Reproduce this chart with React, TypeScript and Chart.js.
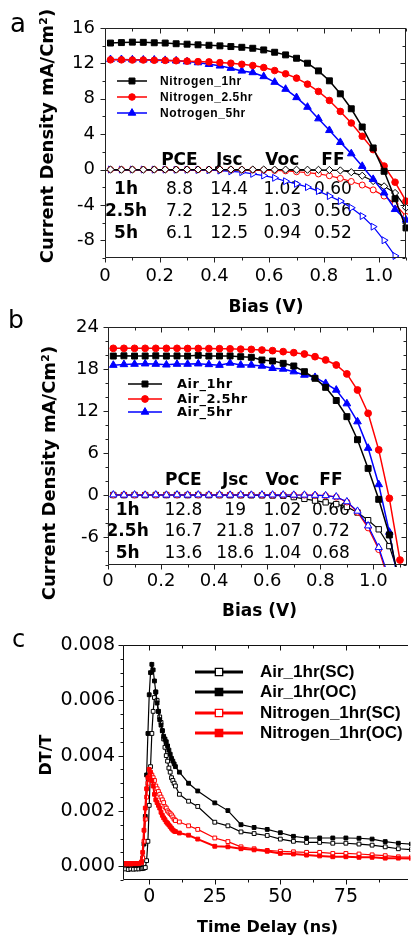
import React, { useEffect, useRef } from 'react';
import { Chart, registerables } from 'chart.js';

Chart.register(...registerables);

const SANS = '"DejaVu Sans", "Noto Sans", sans-serif';
const ARIAL = '"Liberation Sans", Arial, sans-serif';

// ---------------- DATA ----------------
// shared bias sweep (V) for panels a and b
const biasV = [0.02, 0.06, 0.10, 0.14, 0.18, 0.22, 0.26, 0.30, 0.34, 0.38, 0.42, 0.46, 0.50, 0.54, 0.58, 0.62, 0.66, 0.70, 0.74, 0.78, 0.82, 0.86, 0.90, 0.94, 0.98, 1.02, 1.06, 1.10];

// panel a (illuminated)
const nitrogen1hr = [14.30, 14.35, 14.40, 14.38, 14.33, 14.30, 14.22, 14.17, 14.10, 14.05, 13.98, 13.90, 13.82, 13.71, 13.52, 13.26, 12.96, 12.58, 12.02, 11.15, 10.03, 8.56, 6.87, 4.81, 2.44, -0.20, -3.30, -6.60];
const nitrogen25hr = [12.40, 12.40, 12.38, 12.38, 12.35, 12.33, 12.30, 12.25, 12.20, 12.17, 12.09, 12.02, 11.90, 11.76, 11.53, 11.19, 10.82, 10.33, 9.65, 8.83, 7.81, 6.57, 5.26, 3.76, 2.25, 0.40, -1.43, -3.57];
const nitrogen5hr = [12.45, 12.45, 12.42, 12.40, 12.40, 12.35, 12.30, 12.20, 12.09, 11.90, 11.72, 11.46, 11.15, 10.97, 10.52, 9.88, 9.09, 8.15, 7.06, 5.75, 4.43, 3.08, 1.80, 0.38, -1.10, -2.63, -4.50, -5.70];
// panel a (dark)
const nitrogen1hrDark = [0.0, -0.02, 0.0, -0.01, 0.0, 0.0, -0.01, 0.0, 0.0, -0.01, 0.0, 0.0, -0.01, 0.0, 0.0, -0.01, -0.01, -0.02, -0.02, -0.03, -0.05, -0.10, -0.30, -0.70, -1.30, -1.90, -2.65, -4.30];
const nitrogen25hrDark = [0.0, 0.0, 0.0, 0.0, 0.0, 0.0, 0.0, 0.0, -0.01, -0.01, -0.01, -0.02, -0.03, -0.04, -0.06, -0.10, -0.15, -0.25, -0.35, -0.50, -0.70, -1.00, -1.35, -1.75, -2.30, -3.00, -3.90, -5.30];
const nitrogen5hrDark = [0.0, 0.0, 0.0, 0.0, -0.01, -0.01, -0.02, -0.03, -0.05, -0.08, -0.12, -0.20, -0.30, -0.49, -0.68, -0.94, -1.32, -1.62, -1.99, -2.44, -3.00, -3.57, -4.32, -5.26, -6.46, -8.00, -9.77];

// panel b (illuminated)
const air1hr = [19.85, 19.88, 19.85, 19.86, 19.88, 19.85, 19.87, 19.85, 19.95, 19.85, 19.86, 19.87, 19.76, 19.67, 19.29, 19.14, 18.81, 18.43, 17.62, 16.67, 15.38, 13.50, 11.19, 7.90, 3.80, -0.62, -5.71, -13.0];
const air25hr = [20.95, 20.95, 20.95, 20.95, 20.95, 20.95, 20.95, 20.93, 20.93, 20.92, 20.90, 20.88, 20.83, 20.80, 20.71, 20.62, 20.48, 20.33, 20.14, 19.76, 19.29, 18.57, 17.30, 15.00, 11.67, 6.45, -0.48, -9.29];
const air5hr = [18.55, 18.65, 18.70, 18.75, 18.70, 18.60, 18.70, 18.70, 18.75, 18.65, 18.55, 18.85, 18.57, 18.57, 18.43, 18.10, 18.00, 17.62, 17.14, 16.81, 15.95, 15.00, 13.05, 10.48, 6.70, 1.50, -5.30, -14.0];
// panel b (dark)
const air1hrDark = [0.0, -0.02, 0.0, -0.02, 0.0, -0.01, 0.0, -0.02, 0.0, -0.02, -0.02, -0.03, -0.03, -0.04, -0.05, -0.07, -0.10, -0.30, -0.55, -0.80, -1.05, -1.30, -1.70, -2.50, -3.60, -4.90, -7.30, -12.0];
const air25hrDark = [0.0, 0.02, 0.0, 0.02, 0.0, 0.02, 0.0, 0.02, 0.0, 0.02, 0.0, 0.02, 0.0, 0.02, 0.0, 0.0, 0.0, 0.0, -0.02, -0.05, -0.10, -0.30, -1.00, -2.45, -4.70, -7.80, -12.5];
const air5hrDark = [0.03, 0.0, 0.03, 0.0, 0.03, 0.0, 0.03, 0.0, 0.03, 0.0, 0.03, 0.0, 0.03, 0.0, 0.03, 0.02, 0.02, 0.0, 0.0, -0.03, -0.08, -0.25, -0.95, -2.30, -4.40, -7.50, -12.0];

// tables
const tableHeaders = ['PCE', 'Jsc', 'Voc', 'FF'];
const tableRowLabels = ['1h', '2.5h', '5h'];
const nitrogenPCE = ['8.8', '7.2', '6.1'];
const nitrogenJsc = ['14.4', '12.5', '12.5'];
const nitrogenVoc = ['1.02', '1.03', '0.94'];
const nitrogenFF = ['0.60', '0.56', '0.52'];
const airPCE = ['12.8', '16.7', '13.6'];
const airJsc = ['19', '21.8', '18.6'];
const airVoc = ['1.02', '1.07', '1.04'];
const airFF = ['0.66', '0.72', '0.68'];

// panel c (transient)
const timeNs = [-9, -8, -7, -6, -5, -4, -3, -2.5, -2, -1.5, -1, -0.5, 0, 0.5, 1, 1.5, 2, 2.5, 3, 3.5, 4, 4.5, 5, 5.5, 6, 6.5, 7, 7.5, 8, 8.5, 9, 9.5, 10, 11.5, 15, 18.5, 25, 30, 35, 40, 45, 50, 55, 60, 65, 70, 75, 80, 85, 90, 95, 100];
const air1hrSC = [-0.00010, -0.00012, -0.00010, -0.00011, -0.00010, -0.00010, -0.00009,
  -0.00008, -0.00007, -0.00005, 0.00020, 0.00090, 0.00220, 0.00360, 0.00480, 0.00560, 0.00610, 0.00630, 0.00600, 0.00560, 0.00540, 0.00520, 0.00490, 0.00460, 0.00430, 0.00400, 0.00380, 0.00355, 0.00340, 0.00320, 0.00310, 0.00300, 0.00290,
  0.00260, 0.00235, 0.00216,
  0.00159, 0.00146, 0.00124, 0.00118, 0.00111, 0.00098, 0.00090, 0.00086, 0.00086, 0.00083, 0.00083, 0.00080, 0.00076, 0.00070, 0.00063, 0.00060];
const air1hrOC = [0.00005, 0.00003, 0.00005, 0.00004, 0.00003, 0.00005, 0.00010,
  0.00030, 0.00080, 0.00180, 0.00330, 0.00480, 0.00620, 0.00700, 0.00730, 0.00710, 0.00670, 0.00630, 0.00590, 0.00560, 0.00530, 0.00510, 0.00490, 0.00470, 0.00460, 0.00450, 0.00435, 0.00420, 0.00405, 0.00390, 0.00380, 0.00370, 0.00360,
  0.00340, 0.00300, 0.00272,
  0.00229, 0.00201, 0.00150, 0.00140, 0.00133, 0.00121, 0.00108, 0.00102, 0.00102, 0.00102, 0.00102, 0.00101, 0.00098, 0.00089, 0.00083, 0.00080];
const nitrogen1hrSC = [0.00008, 0.00010, 0.00008, 0.00010, 0.00009, 0.00010, 0.00012,
  0.00030, 0.00090, 0.00170, 0.00250, 0.00300, 0.00320, 0.00330, 0.00330, 0.00320, 0.00310, 0.00290, 0.00280, 0.00270, 0.00260, 0.00250, 0.00240, 0.00230, 0.00215, 0.00210, 0.00200, 0.00195, 0.00190, 0.00185, 0.00178, 0.00170, 0.00165,
  0.00160, 0.00146, 0.00133,
  0.00102, 0.00089, 0.00070, 0.00063, 0.00057, 0.00054, 0.00052, 0.00050, 0.00050, 0.00046, 0.00046, 0.00044, 0.00041, 0.00038, 0.00034, 0.00033];
const nitrogen1hrOC = [0.00010, 0.00008, 0.00010, 0.00009, 0.00010, 0.00010, 0.00015,
  0.00050, 0.00130, 0.00210, 0.00280, 0.00320, 0.00350, 0.00340, 0.00310, 0.00290, 0.00260, 0.00240, 0.00230, 0.00220, 0.00210, 0.00195, 0.00184, 0.00175, 0.00168, 0.00160, 0.00155, 0.00149, 0.00143, 0.00137, 0.00131, 0.00127, 0.00125,
  0.00120, 0.00112, 0.00098,
  0.00072, 0.00070, 0.00063, 0.00059, 0.00054, 0.00046, 0.00044, 0.00040, 0.00037, 0.00034, 0.00034, 0.00032, 0.00032, 0.00029, 0.00029, 0.00028];

// tick labels
const aXTicks = [0, 0.2, 0.4, 0.6, 0.8, 1.0];
const aYTicks = [-8, -4, 0, 4, 8, 12, 16];
const bXTicks = [0, 0.2, 0.4, 0.6, 0.8, 1.0];
const bYTicks = [-6, 0, 6, 12, 18, 24];
const cXTicks = [0, 25, 50, 75];
const cYTicks = [0, 0.002, 0.004, 0.006, 0.008];

// ---------------- HELPERS ----------------
const toPts = (xs: number[], ys: number[]) => ys.map((y, i) => ({ x: xs[i], y }));

function drawMarker(ctx: CanvasRenderingContext2D, style: string, x: number, y: number, r: number, rot: number, fill: string, stroke: string, bw: number) {
  ctx.save();
  ctx.translate(x, y);
  ctx.rotate((rot * Math.PI) / 180);
  ctx.beginPath();
  if (style === 'circle') ctx.arc(0, 0, r, 0, Math.PI * 2);
  else if (style === 'rect') { const s = r * Math.SQRT1_2; ctx.rect(-s, -s, 2 * s, 2 * s); }
  else if (style === 'rectRot') { ctx.moveTo(0, -r); ctx.lineTo(r, 0); ctx.lineTo(0, r); ctx.lineTo(-r, 0); ctx.closePath(); }
  else if (style === 'triangle') { ctx.moveTo(0, -r); ctx.lineTo(r * 0.866, r * 0.5); ctx.lineTo(-r * 0.866, r * 0.5); ctx.closePath(); }
  ctx.fillStyle = fill;
  ctx.fill();
  ctx.lineWidth = bw;
  ctx.strokeStyle = stroke;
  ctx.stroke();
  ctx.restore();
}

function stepValues(min: number, max: number, step: number) {
  const out: number[] = [];
  const k0 = Math.ceil(min / step - 1e-9);
  const k1 = Math.floor(max / step + 1e-9);
  for (let k = k0; k <= k1; k++) out.push(k * step);
  return out;
}

const framePlugin = {
  id: 'frame',
  beforeDatasetsDraw(chart: any, _a: any, o: any) {
    if (!o || !o.zeroLine) return;
    const { ctx, chartArea: ca, scales } = chart;
    const py = Math.round(scales.y.getPixelForValue(0)) + 0.5;
    ctx.save();
    ctx.strokeStyle = o.color;
    ctx.lineWidth = 1;
    ctx.beginPath();
    ctx.moveTo(ca.left, py);
    ctx.lineTo(ca.right, py);
    ctx.stroke();
    ctx.restore();
  },
  afterDatasetsDraw(chart: any, _a: any, o: any) {
    const { ctx, chartArea: ca, scales } = chart;
    const xs = scales.x, ys = scales.y;
    const L = Math.round(ca.left) + 0.5, R = Math.round(ca.right) - 0.5;
    const T = Math.round(ca.top) + 0.5, B = Math.round(ca.bottom) - 0.5;
    ctx.save();
    ctx.strokeStyle = o.color;
    ctx.lineWidth = 1;
    ctx.beginPath();
    if (o.left) { ctx.moveTo(L, T); ctx.lineTo(L, B); }
    if (o.bottom) { ctx.moveTo(L, B); ctx.lineTo(R + 0.5, B); }
    if (o.top) { ctx.moveTo(L, T); ctx.lineTo(R + 0.5, T); }
    if (o.right) { ctx.moveTo(R, T); ctx.lineTo(R, B); }
    const isMajor = (v: number, majors: number[], step: number) => majors.some((m: number) => Math.abs(m - v) < step * 1e-3);
    for (const v of stepValues(xs.min, xs.max, o.xMinor)) {
      const px = Math.round(xs.getPixelForValue(v)) + 0.5;
      const len = isMajor(v, o.xMajor, o.xMinor) ? o.majorLen : o.minorLen;
      if (o.bottom) { ctx.moveTo(px, B); ctx.lineTo(px, B + len); }
      if (o.top) { ctx.moveTo(px, T); ctx.lineTo(px, T + len); }
    }
    for (const v of stepValues(ys.min, ys.max, o.yMinor)) {
      const py = Math.round(ys.getPixelForValue(v)) + 0.5;
      const len = isMajor(v, o.yMajor, o.yMinor) ? o.majorLen : o.minorLen;
      if (o.left) { ctx.moveTo(L - len, py); ctx.lineTo(L, py); }
      if (o.right) { ctx.moveTo(R - len, py); ctx.lineTo(R, py); }
    }
    ctx.stroke();
    ctx.restore();
  },
};

const tablePlugin = {
  id: 'pvTable',
  beforeDatasetsDraw(chart: any, _a: any, o: any) {
    if (!o || !o.cells) return;
    const { ctx, scales } = chart;
    const xs = scales.x, ys = scales.y;
    ctx.save();
    ctx.fillStyle = '#000';
    ctx.textAlign = 'center';
    ctx.textBaseline = 'middle';
    ctx.font = o.boldFont;
    o.headers.forEach((h: string, j: number) => {
      ctx.fillText(h, xs.getPixelForValue(o.colX[j]), ys.getPixelForValue(o.headerY));
    });
    o.rowLabels.forEach((lab: string, i: number) => {
      const py = ys.getPixelForValue(o.rowY[i]);
      ctx.font = o.boldFont;
      ctx.fillText(lab, xs.getPixelForValue(o.labelX), py);
      ctx.font = o.font;
      o.cells[i].forEach((c: string, j: number) => ctx.fillText(c, xs.getPixelForValue(o.colX[j]), py));
    });
    ctx.restore();
  },
};

const legendPlugin = {
  id: 'boxLegend',
  afterDatasetsDraw(chart: any, _a: any, o: any) {
    if (!o || !o.items) return;
    const { ctx } = chart;
    ctx.save();
    o.items.forEach((idx: number, k: number) => {
      const d = chart.data.datasets[idx];
      const y = o.ys[k];
      ctx.strokeStyle = d.borderColor;
      ctx.lineWidth = o.lineWidth;
      ctx.beginPath();
      ctx.moveTo(o.x0, y);
      ctx.lineTo(o.x1, y);
      ctx.stroke();
      const r = o.markerRadius || d.pointRadius;
      drawMarker(ctx, d.pointStyle, (o.x0 + o.x1) / 2, y, r, d.pointRotation || 0, d.pointBackgroundColor, d.pointBorderColor, o.markerBorder || 1);
      ctx.fillStyle = '#000';
      ctx.font = o.font;
      (ctx as any).letterSpacing = o.letterSpacing || '0px';
      ctx.textAlign = 'left';
      ctx.textBaseline = 'middle';
      ctx.fillText(d.label, o.textX, y + 0.5);
      (ctx as any).letterSpacing = '0px';
    });
    ctx.restore();
  },
};

const textPlugin = {
  id: 'freeText',
  afterDraw(chart: any, _a: any, o: any) {
    if (!o || !o.items) return;
    const { ctx } = chart;
    o.items.forEach((it: any) => {
      ctx.save();
      ctx.translate(it.x, it.y);
      if (it.rotate) ctx.rotate((it.rotate * Math.PI) / 180);
      ctx.font = it.font;
      ctx.fillStyle = '#000';
      ctx.textAlign = it.align || 'center';
      ctx.textBaseline = it.baseline || 'middle';
      ctx.fillText(it.text, 0, 0);
      ctx.restore();
    });
  },
};

function ds(label: string, xs: number[], ys: number[], color: string, style: string, r: number, filled: boolean, bw: number, extra: any = {}) {
  return {
    label,
    data: toPts(xs, ys),
    borderColor: color,
    backgroundColor: color,
    borderWidth: bw,
    pointStyle: style,
    pointRadius: r,
    pointHoverRadius: r,
    pointBorderWidth: 1,
    pointBorderColor: color,
    pointBackgroundColor: filled ? color : '#ffffff',
    pointRotation: 0,
    tension: 0,
    fill: false,
    clip: 2,
    ...extra,
  };
}

function scale(min: number, max: number, ticks: number[], fmt: (v: number) => string, axis: 'x' | 'y', size: number, fontSize: number, padding: number) {
  return {
    type: 'linear',
    min,
    max,
    grid: { display: false, drawTicks: false },
    border: { display: false },
    ticks: {
      color: '#000',
      font: { family: SANS, size: fontSize },
      padding,
      autoSkip: false,
      maxRotation: 0,
      minRotation: 0,
      callback: (v: any) => fmt(Number(v)),
    },
    afterBuildTicks: (s: any) => { s.ticks = ticks.map((v) => ({ value: v })); },
    afterFit: (s: any) => { if (axis === 'x') s.height = size; else s.width = size; },
  };
}

const basePlugins = [framePlugin, tablePlugin, legendPlugin, textPlugin];

function baseOptions(pad: any, scales: any, pluginOpts: any) {
  return {
    responsive: false,
    animation: false,
    devicePixelRatio: 1,
    events: [],
    layout: { padding: pad },
    scales,
    plugins: { legend: { display: false }, tooltip: { enabled: false }, ...pluginOpts },
  };
}

const fmtBias = (v: number) => (v === 0 ? '0' : v.toFixed(1));
const fmtInt = (v: number) => String(Math.round(v));
const fmtC = (v: number) => v.toFixed(3);

function configA(): any {
  const RED = '#ff0000', BLUE = '#0000ff', BLK = '#000000';
  return {
    type: 'line',
    data: {
      datasets: [
        ds('Nitrogen_1hr', biasV, nitrogen1hr, BLK, 'rect', 4.2, true, 1.5, { order: 0 }),
        ds('Nitrogen_2.5hr', biasV, nitrogen25hr, RED, 'circle', 3.3, true, 1.5, { order: 1 }),
        ds('Notrogen_5hr', biasV, nitrogen5hr, BLUE, 'triangle', 4.4, true, 1.5, { order: 2 }),
        ds('Nitrogen_1hr dark', biasV, nitrogen1hrDark, BLK, 'rectRot', 3.6, false, 1.2, { order: 3 }),
        ds('Nitrogen_2.5hr dark', biasV, nitrogen25hrDark, RED, 'circle', 3.0, false, 1.2, { order: 4 }),
        ds('Notrogen_5hr dark', biasV, nitrogen5hrDark, BLUE, 'triangle', 4.0, false, 1.2, { order: 5, pointRotation: 90 }),
      ],
    },
    options: baseOptions(
      { left: 0, right: 6, top: 28, bottom: 0 },
      {
        x: scale(0, 1.1, aXTicks, fmtBias, 'x', 62, 18, 8),
        y: scale(-10, 16, aYTicks, fmtInt, 'y', 105, 18, 10),
      },
      {
        frame: { color: '#222', left: true, right: true, top: true, bottom: true, xMinor: 0.1, yMinor: 2, xMajor: aXTicks, yMajor: aYTicks, majorLen: 5, minorLen: 3, zeroLine: true },
        pvTable: {
          headers: tableHeaders, rowLabels: tableRowLabels,
          cells: [0, 1, 2].map((i) => [nitrogenPCE[i], nitrogenJsc[i], nitrogenVoc[i], nitrogenFF[i]]),
          colX: [0.272, 0.454, 0.648, 0.833], labelX: 0.077, headerY: 1.0, rowY: [-2.25, -4.73, -7.21],
          font: `17px ${SANS}`, boldFont: `bold 17px ${SANS}`,
        },
        boxLegend: { items: [0, 1, 2], ys: [81, 97, 113], x0: 117, x1: 147, textX: 160, font: `bold 12px ${ARIAL}`, letterSpacing: '0.6px', lineWidth: 1.5 },
        freeText: {
          items: [
            { text: 'a', x: 10, y: 32, font: `26px ${SANS}`, align: 'left', baseline: 'alphabetic' },
            { text: 'Current Density mA/Cm²)', x: 48, y: 136, font: `bold 18px ${SANS}`, rotate: -90 },
            { text: 'Bias (V)', x: 266, y: 308, font: `bold 17px ${SANS}` },
          ],
        },
      },
    ),
    plugins: basePlugins,
  };
}

function configB(): any {
  const RED = '#ff0000', BLUE = '#0000ff', BLK = '#000000';
  return {
    type: 'line',
    data: {
      datasets: [
        ds('Air_1hr', biasV, air1hr, BLK, 'rect', 4.2, true, 1.5, { order: 1 }),
        ds('Air_2.5hr', biasV, air25hr, RED, 'circle', 3.4, true, 1.5, { order: 0 }),
        ds('Air_5hr', biasV, air5hr, BLUE, 'triangle', 4.4, true, 1.5, { order: 2 }),
        ds('Air_1hr dark', biasV, air1hrDark, BLK, 'rect', 3.8, false, 1.2, { order: 5 }),
        ds('Air_2.5hr dark', biasV, air25hrDark, RED, 'circle', 3.0, false, 1.2, { order: 4 }),
        ds('Air_5hr dark', biasV, air5hrDark, BLUE, 'triangle', 4.2, false, 1.2, { order: 3 }),
      ],
    },
    options: baseOptions(
      { left: 0, right: 1, top: 27, bottom: 0 },
      {
        x: scale(0, 1.125, bXTicks, fmtBias, 'x', 65, 18, 6),
        y: scale(-10, 24, bYTicks, fmtInt, 'y', 108, 18, 9),
      },
      {
        frame: { color: '#222', left: true, right: true, top: true, bottom: true, xMinor: 0.1, yMinor: 2, xMajor: bXTicks, yMajor: bYTicks, majorLen: 5, minorLen: 3, zeroLine: false },
        pvTable: {
          headers: tableHeaders, rowLabels: tableRowLabels,
          cells: [0, 1, 2].map((i) => [airPCE[i], airJsc[i], airVoc[i], airFF[i]]),
          colX: [0.284, 0.479, 0.657, 0.84], labelX: 0.074, headerY: 2.0, rowY: [-2.29, -5.29, -8.43],
          font: `17px ${SANS}`, boldFont: `bold 17px ${SANS}`,
        },
        boxLegend: { items: [0, 1, 2], ys: [84, 99, 112], x0: 128, x1: 162, textX: 177, font: `bold 13px ${SANS}`, letterSpacing: '0.5px', lineWidth: 1.5 },
        freeText: {
          items: [
            { text: 'b', x: 8, y: 28, font: `25px ${SANS}`, align: 'left', baseline: 'alphabetic' },
            { text: 'Current Density mA/Cm²)', x: 50, y: 173, font: `bold 18px ${SANS}`, rotate: -90 },
            { text: 'Bias (V)', x: 259.5, y: 311.5, font: `bold 17px ${SANS}` },
          ],
        },
      },
    ),
    plugins: basePlugins,
  };
}

function configC(): any {
  const RED = '#ff0000', BLK = '#000000';
  return {
    type: 'line',
    data: {
      datasets: [
        ds('Air_1hr(SC)', timeNs, air1hrSC, BLK, 'rect', 2.7, false, 1.2, { order: 3 }),
        ds('Air_1hr(OC)', timeNs, air1hrOC, BLK, 'rect', 2.7, true, 1.2, { order: 2 }),
        ds('Nitrogen_1hr(SC)', timeNs, nitrogen1hrSC, RED, 'rect', 2.7, false, 1.2, { order: 1 }),
        ds('Nitrogen_1hr(OC)', timeNs, nitrogen1hrOC, RED, 'rect', 2.7, true, 2, { order: 0 }),
      ],
    },
    options: baseOptions(
      { left: 0, right: 0, top: 30, bottom: 0 },
      {
        x: scale(-10, 98.8, cXTicks, fmtInt, 'x', 58, 19, 6),
        y: scale(-0.0005, 0.008, cYTicks, fmtC, 'y', 123, 19, 8),
      },
      {
        frame: { color: '#111', left: true, right: false, top: true, bottom: true, xMinor: 12.5, yMinor: 0.0005, xMajor: cXTicks, yMajor: cYTicks, majorLen: 5, minorLen: 3, zeroLine: false },
        boxLegend: { items: [0, 1, 2, 3], ys: [57, 77, 98, 118], x0: 195, x1: 243, textX: 260, font: `bold 17px ${ARIAL}`, letterSpacing: '0px', lineWidth: 3, markerRadius: 5.2, markerBorder: 1.3 },
        freeText: {
          items: [
            { text: 'c', x: 12, y: 32, font: `24px ${SANS}`, align: 'left', baseline: 'alphabetic' },
            { text: 'DT/T', x: 47, y: 140, font: `bold 16px ${SANS}`, rotate: -90 },
            { text: 'Time Delay (ns)', x: 267.5, y: 313, font: `bold 16px ${SANS}` },
          ],
        },
      },
    ),
    plugins: basePlugins,
  };
}

export default function App() {
  const refA = useRef<HTMLCanvasElement>(null);
  const refB = useRef<HTMLCanvasElement>(null);
  const refC = useRef<HTMLCanvasElement>(null);

  useEffect(() => {
    const charts = [
      new Chart(refA.current as HTMLCanvasElement, configA()),
      new Chart(refB.current as HTMLCanvasElement, configB()),
      new Chart(refC.current as HTMLCanvasElement, configC()),
    ];
    return () => charts.forEach((c) => c.destroy());
  }, []);

  const cv = (top: number, h: number): React.CSSProperties => ({ position: 'absolute', left: 0, top, width: 412, height: h });

  return (
    <div style={{ position: 'absolute', left: 0, top: 0, width: 412, height: 938, background: '#ffffff', overflow: 'hidden' }}>
      <canvas ref={refA} width={412} height={320} style={cv(0, 320)} />
      <canvas ref={refB} width={412} height={330} style={cv(300, 330)} />
      <canvas ref={refC} width={412} height={323} style={cv(615, 323)} />
    </div>
  );
}
